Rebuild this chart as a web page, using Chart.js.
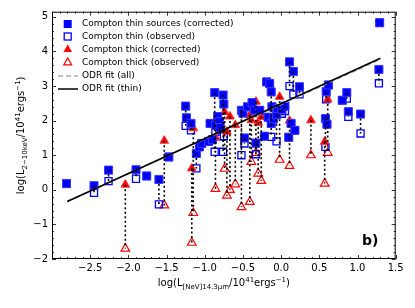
<!DOCTYPE html>
<html>
<head>
<meta charset="utf-8">
<script src="https://cdn.jsdelivr.net/npm/chart.js@4.4.1/dist/chart.umd.min.js"></script>
<style>
  html, body { margin: 0; padding: 0; background: #fff; }
  canvas { display: block; }
</style>
</head>
<body>
<canvas id="chart" width="415" height="308"></canvas>
<script>
// Compton thin sources: log L[NeV], corrected and observed log L(2-10 keV)
const thinX    = [-2.81, -2.45, -2.26, -1.90, -1.76, -1.60, -1.47, -1.25, -1.24, -1.18, -1.11, -1.07, -1.04, -0.95, -0.93, -0.90, -0.87, -0.86, -0.83, -0.81, -0.80, -0.76, -0.75, -0.52, -0.50, -0.48, -0.44, -0.38, -0.35, -0.33, -0.28, -0.22, -0.19, -0.17, -0.15, -0.13, -0.13, -0.12, -0.10, -0.06, -0.05, 0.01, 0.05, 0.10, 0.11, 0.13, 0.16, 0.18, 0.24, 0.58, 0.59, 0.60, 0.62, 0.80, 0.86, 0.88, 1.04, 1.28, 1.29];
const thinCorr = [0.18, 0.12, 0.57, 0.58, 0.40, 0.30, 0.95, 2.42, 2.08, 1.92, 1.05, 1.24, 1.34, 1.40, 1.92, 1.45, 2.81, 1.87, 2.12, 1.97, 1.80, 2.74, 2.48, 2.30, 2.22, 1.50, 2.40, 2.52, 2.30, 1.35, 2.30, 1.55, 3.12, 2.10, 3.07, 2.83, 1.92, 2.40, 2.05, 2.17, 2.35, 2.33, 2.42, 1.52, 3.70, 1.92, 3.42, 1.72, 2.98, 2.06, 2.84, 1.90, 3.03, 2.59, 2.81, 2.26, 2.19, 3.48, 4.83];
const thinObs  = [0.18, -0.09, 0.25, 0.32, 0.40, -0.42, 0.95, 1.85, 2.08, 1.72, 0.62, 1.24, 1.34, 1.40, 1.92, 1.45, 1.10, 1.68, 2.12, 1.97, 1.55, 1.10, 1.55, 1.00, 2.22, 1.34, 2.40, 2.52, 2.30, 1.03, 2.30, 1.55, 3.12, 2.10, 3.07, 1.53, 1.92, 2.40, 2.05, 1.40, 2.35, 2.20, 2.28, 1.52, 3.00, 1.92, 2.76, 1.72, 2.76, 1.24, 2.62, 1.90, 3.03, 2.59, 2.64, 2.11, 1.63, 3.08, 4.83];

// Compton thick sources
const thickX    = [-2.04, -1.53, -1.17, -1.15, -0.86, -0.74, -0.71, -0.67, -0.60, -0.52, -0.41, -0.39, -0.33, -0.30, -0.26, -0.02, 0.11, 0.39, 0.57, 0.61];
const thickCorr = [0.15, 1.42, 0.62, 1.78, 1.52, 2.25, 1.68, 2.12, 1.87, 2.26, 2.16, 2.01, 2.55, 1.94, 2.11, 2.69, 2.00, 2.01, 1.39, 2.61];
const thickObs  = [-1.70, -0.45, -1.53, -0.67, 0.03, 0.61, -0.17, 0.00, 0.16, -0.50, -0.35, 0.81, 1.07, 0.47, 0.26, 0.87, 0.69, 1.00, 0.18, 1.07];

// ODR fits, y = a + b * x
const fitAll = [2.47, 1.0];
const fitThin = [2.49, 1.01];
const fitRange = [-2.8, 1.3];

const xTicks = [-2.5, -2.0, -1.5, -1.0, -0.5, 0.0, 0.5, 1.0, 1.5];
const xTickLabels = ['\u22122.5', '\u22122.0', '\u22121.5', '\u22121.0', '\u22120.5', '0.0', '0.5', '1.0', '1.5'];
const yTicks = [-2, -1, 0, 1, 2, 3, 4, 5];
const yTickLabels = ['\u22122', '\u22121', '0', '1', '2', '3', '4', '5'];

const FONT = '"DejaVu Sans", sans-serif';
Chart.defaults.font.family = FONT;
Chart.defaults.color = '#000';

const pts = (xs, ys) => xs.map((x, i) => ({ x: x, y: ys[i] }));

function connectors() {
  const out = [];
  thinX.forEach((x, i) => {
    out.push({ x: x, y: thinCorr[i] }, { x: x, y: thinObs[i] }, { x: x, y: null });
  });
  thickX.forEach((x, i) => {
    out.push({ x: x, y: thickCorr[i] }, { x: x, y: thickObs[i] }, { x: x, y: null });
  });
  return out;
}

const fitLine = (f) => fitRange.map(x => ({ x: x, y: f[0] + f[1] * x }));

function richText(ctx, parts, x, y) {
  let w = 0;
  parts.forEach(p => {
    ctx.font = p[1] + 'px ' + FONT;
    w += ctx.measureText(p[0]).width;
  });
  let cx = x - w / 2;
  parts.forEach(p => {
    ctx.font = p[1] + 'px ' + FONT;
    ctx.fillText(p[0], cx, y + p[2]);
    cx += ctx.measureText(p[0]).width;
  });
}

const decor = {
  id: 'decor',
  afterDraw(chart) {
    const { ctx, chartArea: a, scales: { x, y } } = chart;
    ctx.save();

    // frame + inward ticks on all four sides
    ctx.strokeStyle = '#000';
    ctx.lineWidth = 1;
    ctx.strokeRect(a.left + 0.5, a.top + 0.5, a.right - a.left - 1, a.bottom - a.top - 1);
    ctx.lineWidth = 0.8;
    ctx.beginPath();
    for (let i = -30; i <= 15; i++) {
      const px = Math.round(x.getPixelForValue(i / 10)) + 0.5;
      const len = i % 5 === 0 ? 4 : 2;
      ctx.moveTo(px, a.bottom); ctx.lineTo(px, a.bottom - len);
      ctx.moveTo(px, a.top); ctx.lineTo(px, a.top + len);
    }
    for (let i = -10; i <= 25; i++) {
      const py = Math.round(y.getPixelForValue(i / 5)) + 0.5;
      const len = i % 5 === 0 ? 4 : 2;
      ctx.moveTo(a.left, py); ctx.lineTo(a.left + len, py);
      ctx.moveTo(a.right, py); ctx.lineTo(a.right - len, py);
    }
    ctx.stroke();

    // legend (no frame), top left inside
    const lx = 67.7, tx = 82;
    const rows = [24, 36.5, 49.5, 62.5, 76, 89];
    ctx.fillStyle = '#0000ff';
    ctx.fillRect(lx - 4, rows[0] - 4, 8, 8);
    ctx.strokeStyle = '#0000ff';
    ctx.lineWidth = 1.3;
    ctx.strokeRect(lx - 3.5, rows[1] - 3.5, 7, 7);
    ctx.fillStyle = '#ff0000';
    ctx.strokeStyle = '#ff0000';
    ctx.beginPath();
    ctx.moveTo(lx, rows[2] - 5); ctx.lineTo(lx + 4.3, rows[2] + 2.5); ctx.lineTo(lx - 4.3, rows[2] + 2.5); ctx.closePath();
    ctx.fill();
    ctx.beginPath();
    ctx.moveTo(lx, rows[3] - 4.5); ctx.lineTo(lx + 3.9, rows[3] + 2.3); ctx.lineTo(lx - 3.9, rows[3] + 2.3); ctx.closePath();
    ctx.stroke();
    ctx.lineWidth = 1.5;
    ctx.strokeStyle = '#aaaaaa';
    ctx.setLineDash([5, 3]);
    ctx.beginPath(); ctx.moveTo(58, rows[4]); ctx.lineTo(78, rows[4]); ctx.stroke();
    ctx.setLineDash([]);
    ctx.strokeStyle = '#000';
    ctx.beginPath(); ctx.moveTo(58, rows[5]); ctx.lineTo(78, rows[5]); ctx.stroke();

    ctx.fillStyle = '#000';
    ctx.font = '9px ' + FONT;
    ctx.textBaseline = 'middle';
    ctx.textAlign = 'left';
    ['Compton thin sources (corrected)', 'Compton thin (observed)', 'Compton thick (corrected)',
     'Compton thick (observed)', 'ODR fit (all)', 'ODR fit (thin)'].forEach((t, i) => ctx.fillText(t, tx, rows[i]));

    // panel label
    ctx.font = 'bold 14px ' + FONT;
    ctx.textBaseline = 'alphabetic';
    ctx.fillText('b)', 362, 245);

    // axis titles with sub/superscripts
    const cxm = (a.left + a.right) / 2, cym = (a.top + a.bottom) / 2;
    richText(ctx, [['log(L', 10, 0], ['[NeV]14.3\u03bcm', 7, 2.5], ['/10', 10, 0], ['41', 7, -4.5],
                   ['ergs', 10, 0], ['\u22121', 7, -4.5], [')', 10, 0]], cxm, 286);
    ctx.translate(24, cym);
    ctx.rotate(-Math.PI / 2);
    richText(ctx, [['log(L', 10, 0], ['2\u221210keV', 7, 2.5], ['/10', 10, 0], ['41', 7, -4.5],
                   ['ergs', 10, 0], ['\u22121', 7, -4.5], [')', 10, 0]], 0, 0);
    ctx.restore();
  }
};

new Chart(document.getElementById('chart'), {
  type: 'scatter',
  data: {
    datasets: [
      {
        type: 'line', data: connectors(), order: 0,
        borderColor: '#000', borderWidth: 1.6, borderDash: [2, 2.5],
        pointRadius: 0, spanGaps: false, fill: false
      },
      {
        type: 'line', data: fitLine(fitThin), order: 1,
        borderColor: '#000', borderWidth: 1.7, pointRadius: 0, fill: false
      },
      {
        type: 'line', data: fitLine(fitAll), order: 2,
        borderColor: '#aaaaaa', borderWidth: 1.5, borderDash: [5, 3], pointRadius: 0, fill: false
      },
      {
        data: pts(thinX, thinCorr), order: 3,
        pointStyle: 'rect', pointRadius: 5.7, pointBackgroundColor: '#0000ff',
        pointBorderColor: '#3a3aff', pointBorderWidth: 1
      },
      {
        data: pts(thickX, thickCorr), order: 3,
        pointStyle: 'triangle', pointRadius: 5, pointBackgroundColor: '#ff0000',
        pointBorderColor: '#ff2a2a', pointBorderWidth: 1
      },
      {
        data: pts(thinX, thinObs), order: 4,
        pointStyle: 'rect', pointRadius: 5, pointBackgroundColor: 'rgba(255,255,255,0)',
        pointBorderColor: '#0000ff', pointBorderWidth: 1.3
      },
      {
        data: pts(thickX, thickObs), order: 4,
        pointStyle: 'triangle', pointRadius: 5, pointBackgroundColor: 'rgba(255,255,255,0)',
        pointBorderColor: '#ff0000', pointBorderWidth: 1.2
      }
    ]
  },
  options: {
    responsive: false,
    animation: false,
    events: [],
    layout: { padding: { top: 11.7, right: 19.3, left: 0, bottom: 0 } },
    plugins: { legend: { display: false }, tooltip: { enabled: false } },
    scales: {
      x: {
        type: 'linear', min: -3, max: 1.5,
        afterBuildTicks: s => { s.ticks = xTicks.map(v => ({ value: v })); },
        afterFit: s => { s.height = 49; },
        ticks: { callback: (v, i) => xTickLabels[i], font: { size: 10 }, padding: 3, maxRotation: 0, autoSkip: false },
        grid: { display: false, drawTicks: false },
        border: { display: false }
      },
      y: {
        type: 'linear', min: -2, max: 5.15,
        afterBuildTicks: s => { s.ticks = yTicks.map(v => ({ value: v })); },
        afterFit: s => { s.width = 52; },
        ticks: { callback: (v, i) => yTickLabels[i], font: { size: 10 }, padding: 4, autoSkip: false },
        grid: { display: false, drawTicks: false },
        border: { display: false }
      }
    }
  },
  plugins: [decor]
});
</script>
</body>
</html>
